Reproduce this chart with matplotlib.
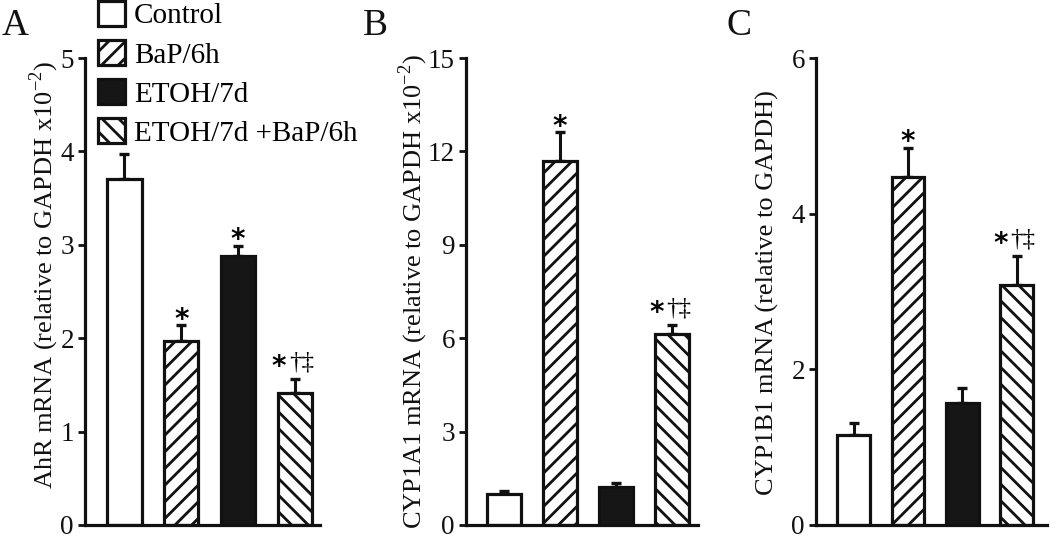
import numpy as np
import matplotlib
matplotlib.use("Agg")
import matplotlib.pyplot as plt
from matplotlib.patches import Patch

plt.rcParams["font.family"] = ["Liberation Serif", "DejaVu Serif"]
plt.rcParams["mathtext.fontset"] = "custom"
plt.rcParams["mathtext.rm"] = "Liberation Serif"
plt.rcParams["hatch.linewidth"] = 2.0

groups = ["Control", "BaP/6h", "ETOH/7d", "ETOH/7d +BaP/6h"]

ahr_mean = [3.70, 1.97, 2.88, 1.41]
ahr_err = [0.27, 0.17, 0.11, 0.15]

cyp1a1_mean = [0.99, 11.70, 1.21, 6.13]
cyp1a1_err = [0.10, 0.92, 0.13, 0.29]

cyp1b1_mean = [1.15, 4.47, 1.57, 3.08]
cyp1b1_err = [0.16, 0.38, 0.19, 0.37]

# significance marks: (bar index, asterisk, extra symbols)
ahr_marks = [(1, "*", ""), (2, "*", ""), (3, "*", "†‡")]
cyp1a1_marks = [(1, "*", ""), (3, "*", "†‡")]
cyp1b1_marks = [(1, "*", ""), (3, "*", "†‡")]

panel_letters = ["A", "B", "C"]
ylabels = [
    "AhR mRNA (relative to GAPDH x10$^{\\mathregular{-2}}$)",
    "CYP1A1 mRNA (relative to GAPDH x10$^{\\mathregular{-2}}$)",
    "CYP1B1 mRNA (relative to GAPDH)",
]
ymax = [5, 15, 6]
ystep = [1, 3, 2]

faces = ["white", "white", "#161616", "white"]
hatches = [None, "//", None, "\\\\"]

fig = plt.figure(figsize=(10.5, 5.39), dpi=100)

rects = [
    [85 / 1050, 14 / 539, 235 / 1050, 467 / 539],
    [466 / 1050, 14 / 539, 232 / 1050, 467 / 539],
    [816 / 1050, 14 / 539, 231 / 1050, 467 / 539],
]
xlims = [(-0.695, 3.44), (-0.68, 3.46), (-0.69, 3.56)]
letter_x = [2 / 1050, 363 / 1050, 726 / 1050]
label_x = [-0.104, -0.157, -0.159]
label_y = [0.535, 0.5, 0.497]

data = [
    (ahr_mean, ahr_err, ahr_marks),
    (cyp1a1_mean, cyp1a1_err, cyp1a1_marks),
    (cyp1b1_mean, cyp1b1_err, cyp1b1_marks),
]

x = np.arange(len(groups))

for i, (mean, err, marks) in enumerate(data):
    ax = fig.add_axes(rects[i])
    ax.errorbar(x, mean, yerr=[np.zeros(len(err)), err], fmt="none",
                ecolor="#111111", elinewidth=2.2, capsize=3.8, capthick=2.4,
                zorder=1)
    for j in range(len(groups)):
        ax.bar(x[j], mean[j], width=0.6, color=faces[j], edgecolor="#111111",
               linewidth=2.3, hatch=hatches[j], zorder=2)
    for j, star, extra in marks:
        top = mean[j] + err[j]
        if extra:
            ax.annotate(star, (x[j], top), xytext=(-11.5, -1), textcoords="offset points",
                        ha="center", va="bottom", fontsize=20, fontweight="bold",
                        family="DejaVu Sans")
            ax.annotate(extra, (x[j], top), xytext=(4.7, 4), textcoords="offset points",
                        ha="center", va="bottom", fontsize=18)
        else:
            ax.annotate(star, (x[j], top), xytext=(0, -6.3), textcoords="offset points",
                        ha="center", va="bottom", fontsize=20, fontweight="bold",
                        family="DejaVu Sans")

    ax.set_xlim(*xlims[i])
    ax.set_ylim(0, ymax[i])
    ax.set_yticks(np.arange(0, ymax[i] + 0.01, ystep[i]))
    ax.set_xticks([])
    for side in ["top", "right"]:
        ax.spines[side].set_visible(False)
    ax.spines["left"].set_linewidth(2.3)
    ax.spines["bottom"].set_linewidth(2.3)
    ax.spines["left"].set_color("#111111")
    ax.spines["bottom"].set_color("#111111")
    ax.tick_params(axis="y", direction="out", length=5, width=2, labelsize=19.5,
                   pad=3, colors="#111111")
    ax.set_ylabel(ylabels[i], fontsize=19, color="#111111")
    ax.yaxis.set_label_coords(label_x[i], label_y[i])
    ax.patch.set_alpha(0)

    fig.text(letter_x[i], 1 - 35 / 539, panel_letters[i], fontsize=27,
             va="baseline", ha="left", color="#111111")

handles = [Patch(facecolor=faces[j], edgecolor="#111111", linewidth=2.3,
                 hatch=hatches[j]) for j in range(len(groups))]
fig.legend(handles, groups, loc="upper left", bbox_to_anchor=(86 / 1050, 1.02),
           frameon=False, fontsize=21, handlelength=0.95, handleheight=0.95,
           handletextpad=0.3, labelspacing=0.36, borderaxespad=0)

fig.savefig("out.png", dpi=100)
